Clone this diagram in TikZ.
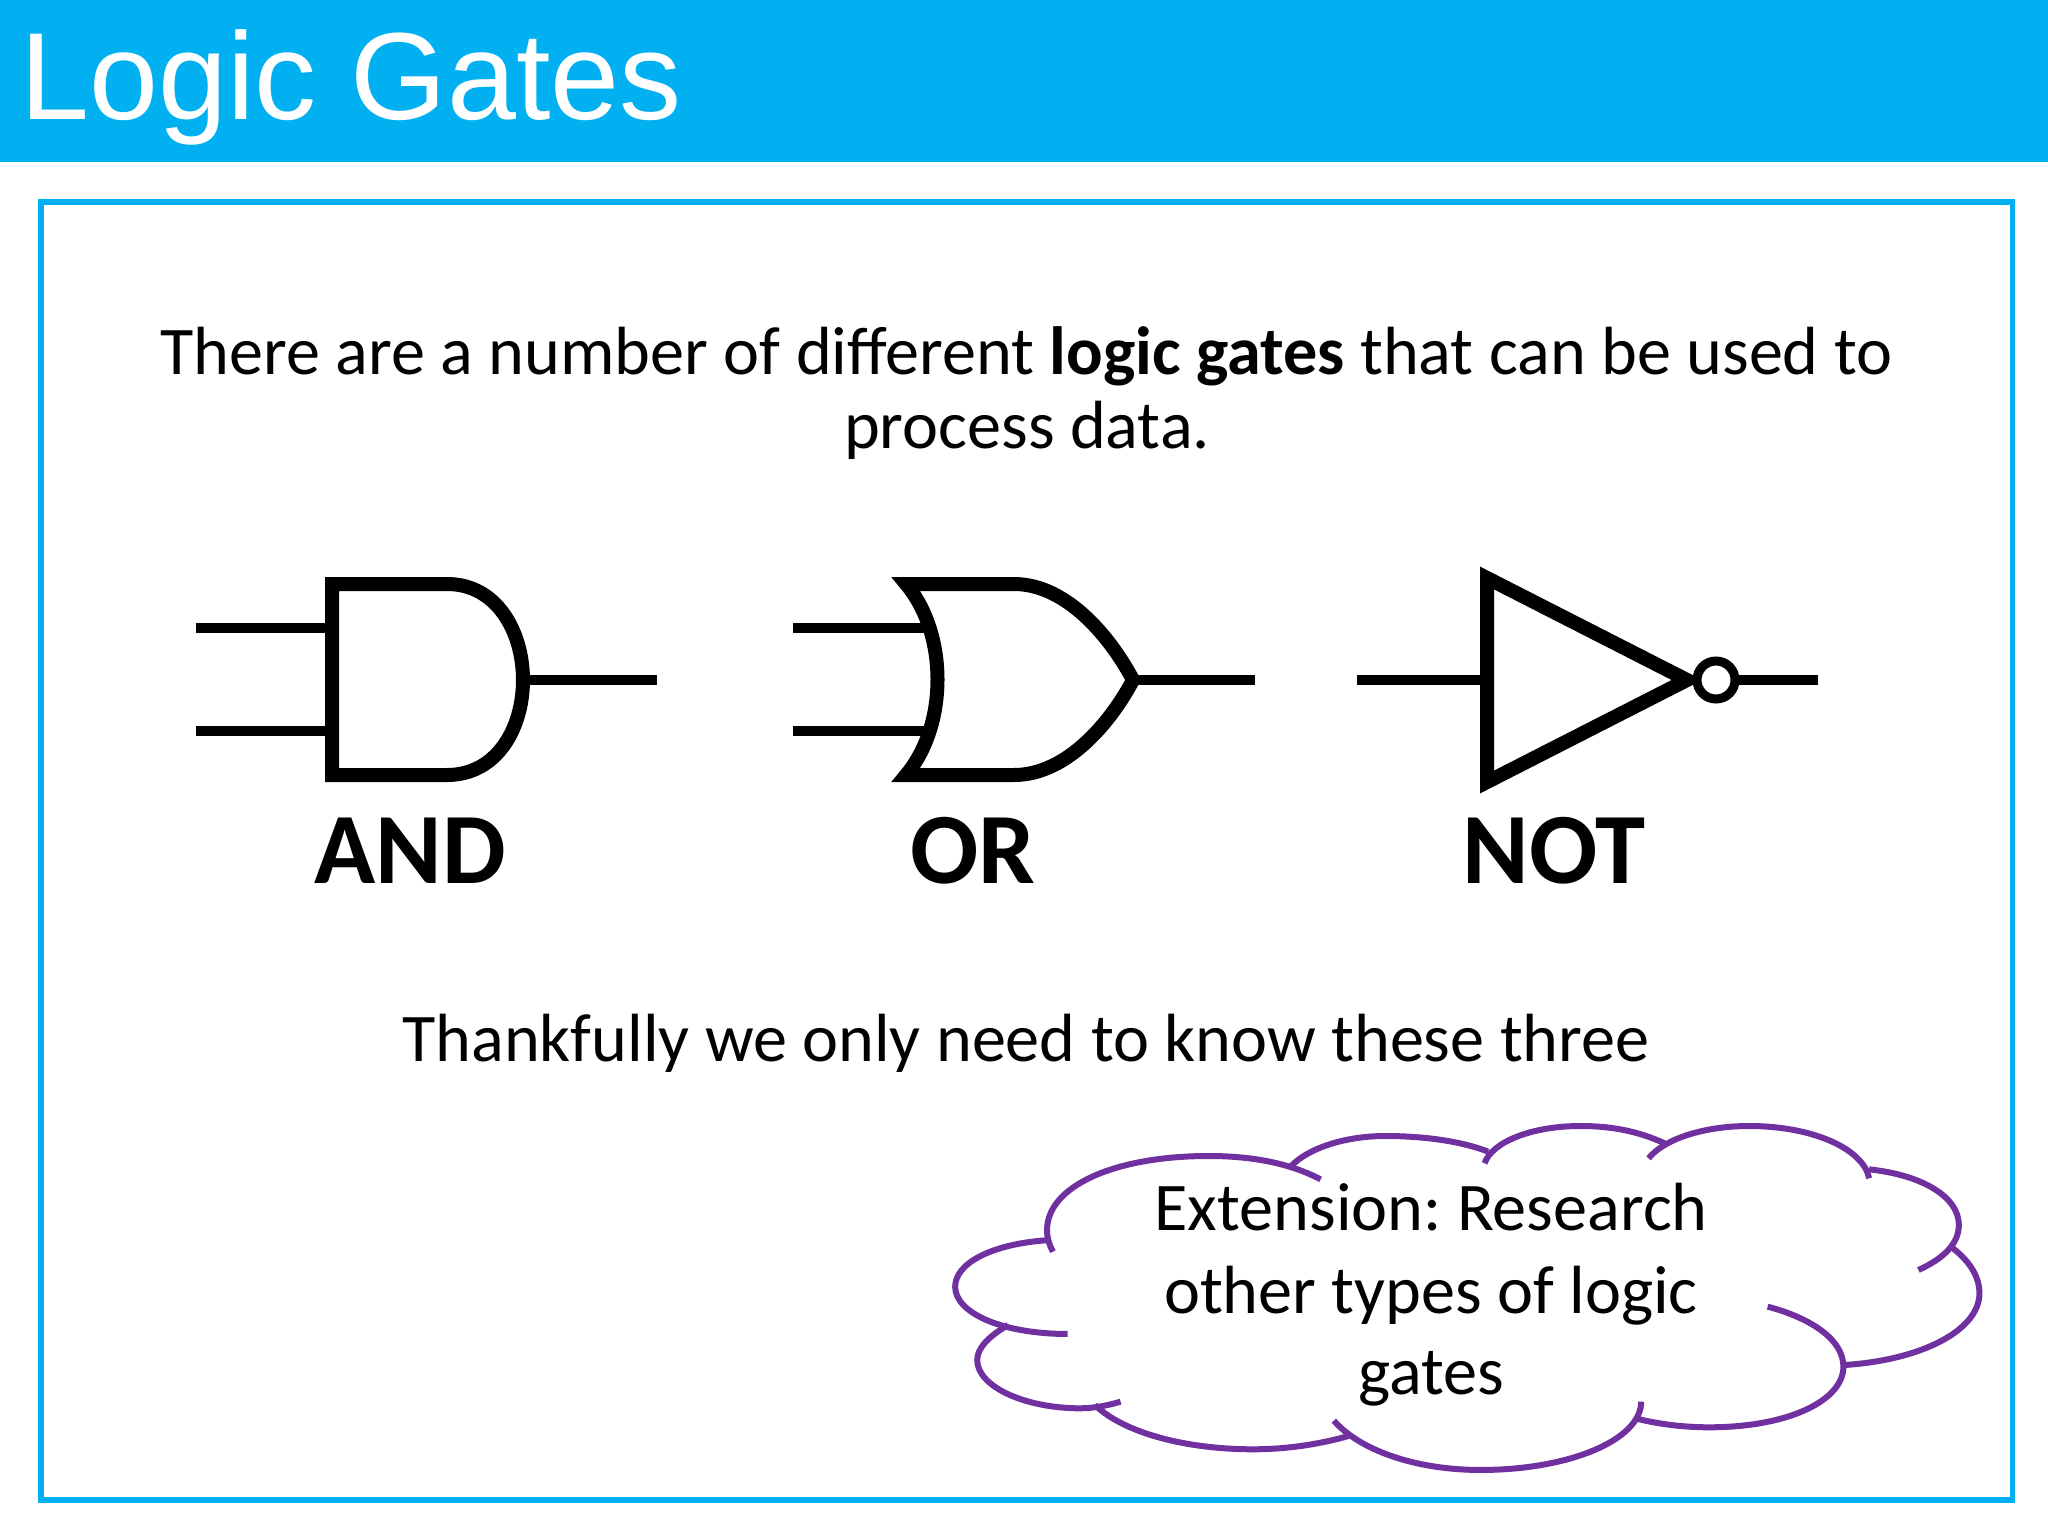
\documentclass[tikz,border=0pt]{standalone}
\usepackage{fontspec}
\setmainfont{Carlito}
\newfontfamily\titlefont{Liberation Sans}
\definecolor{slideblue}{RGB}{0,176,240}
\definecolor{cloudpurple}{RGB}{112,48,160}
\frenchspacing
\tikzset{
  wire/.style={line width=10pt,black},
  gatebody/.style={line width=14pt,black,miter limit=10},
  bodytext/.style={anchor=base,inner sep=0pt,font=\fontsize{68.2}{80}\selectfont},
  gatelabel/.style={anchor=base,inner sep=0pt,font=\fontsize{101}{120}\selectfont\bfseries},
  cloudtext/.style={anchor=base,inner sep=0pt,font=\fontsize{68.2}{80}\selectfont},
  cloudline/.style={line width=6pt,cloudpurple,line cap=butt}
}
\begin{document}
\begin{tikzpicture}[x=1pt,y=-1pt]
\useasboundingbox (0,0) rectangle (2048,1536);
\fill[white] (0,0) rectangle (2048,1536);
\fill[slideblue] (0,0) rectangle (2048,162);
\draw[slideblue,line width=5.5pt] (41,202) rectangle (2012.5,1500);
\node[anchor=base west,inner sep=0pt,text=white,font=\fontsize{124}{140}\selectfont\titlefont] (title) at (20,120) {Logic Gates};
\node[bodytext] (introa) at (1026.5,374) {There are a number of different \textbf{logic gates} that can be used to};
\node[bodytext] (introb) at (1027,448) {process data.};
\node[bodytext] (outro) at (1026,1061) {Thankfully we only need to know these three};
% AND
\coordinate (andia) at (196,628); \coordinate (andib) at (196,731);
\coordinate (andla) at (332,628); \coordinate (andlb) at (332,731);
\coordinate (ando) at (523,680); \coordinate (andq) at (657,680);
\draw[wire] (andia) -- (andla);
\draw[wire] (andib) -- (andlb);
\draw[wire] (ando) -- (andq);
\draw[gatebody] (332,584) -- (447,584) .. controls (497,584) and (523,632) .. (ando) .. controls (523,728) and (497,775) .. (447,775) -- (332,775) -- cycle;
\node[gatelabel] (andlabel) at (410,883) {AND};
% OR
\coordinate (oria) at (793,628); \coordinate (orib) at (793,731);
\coordinate (orla) at (932,628); \coordinate (orlb) at (932,731);
\coordinate (oro) at (1133,680); \coordinate (orq) at (1255,680);
\draw[wire] (oria) -- (orla);
\draw[wire] (orib) -- (orlb);
\draw[wire] (oro) -- (orq);
\draw[gatebody,line join=miter] (906,584) -- (1014,584) .. controls (1068,584) and (1112,640) .. (oro) .. controls (1112,720) and (1068,775) .. (1014,775) -- (906,775) .. controls (948,725) and (948,634) .. cycle;
\node[gatelabel] (orlabel) at (973,883) {OR};
% NOT
\coordinate (notin) at (1357,680); \coordinate (notbar) at (1487,680);
\coordinate (notapex) at (1687,680);
\coordinate (notout) at (1733,680); \coordinate (notq) at (1818,680);
\draw[wire] (notin) -- (notbar);
\draw[wire] (notout) -- (notq);
\draw[gatebody] (1487,578) -- (notapex) -- (1487,782) -- cycle;
\draw[black,line width=9pt,fill=white] (1716,680) circle (19);
\node[gatelabel] (notlabel) at (1554,883) {NOT};
% cloud
\begin{scope}[shift={(900,1080)},x=0.7353pt,y=-0.3333pt]
\draw[cloudline] (572,298) .. controls (530,250) and (480,228) .. (420,228) .. controls (290,228) and (200,320) .. (200,450) .. controls (200,475) and (203,495) .. (208,515);
\draw[cloudline] (205,480) .. controls (125,490) and (75,550) .. (75,620) .. controls (75,700) and (140,762) .. (228,762);
\draw[cloudline] (147,735) .. controls (120,770) and (105,805) .. (105,840) .. controls (105,920) and (170,985) .. (245,985) .. controls (265,985) and (285,975) .. (300,965);
\draw[cloudline] (265,975) .. controls (305,1060) and (390,1108) .. (480,1108) .. controls (530,1108) and (575,1090) .. (610,1068);
\draw[cloudline] (590,1022) .. controls (625,1110) and (700,1170) .. (790,1170) .. controls (910,1170) and (1008,1080) .. (1008,965);
\draw[cloudline] (1000,1015) .. controls (1030,1032) and (1065,1042) .. (1100,1042) .. controls (1210,1042) and (1283,960) .. (1283,860) .. controls (1283,780) and (1240,715) .. (1180,680);
\draw[cloudline] (1285,855) .. controls (1390,840) and (1468,750) .. (1468,640) .. controls (1468,590) and (1455,545) .. (1432,505);
\draw[cloudline] (1385,570) .. controls (1420,535) and (1440,490) .. (1440,435) .. controls (1440,350) and (1390,285) .. (1318,268);
\draw[cloudline] (1318,295) .. controls (1310,205) and (1240,138) .. (1155,138) .. controls (1095,138) and (1040,175) .. (1018,235);
\draw[cloudline] (1040,190) .. controls (1005,155) and (970,138) .. (925,138) .. controls (860,138) and (805,185) .. (795,250);
\draw[cloudline] (800,215) .. controls (765,185) and (715,168) .. (660,168) .. controls (605,168) and (555,205) .. (532,258);
\end{scope}
\node[cloudtext] (clouda) at (1431,1230) {Extension: Research};
\node[cloudtext] (cloudb) at (1431,1313) {other types of logic};
\node[cloudtext] (cloudc) at (1431,1394) {gates};
\end{tikzpicture}
\end{document}
